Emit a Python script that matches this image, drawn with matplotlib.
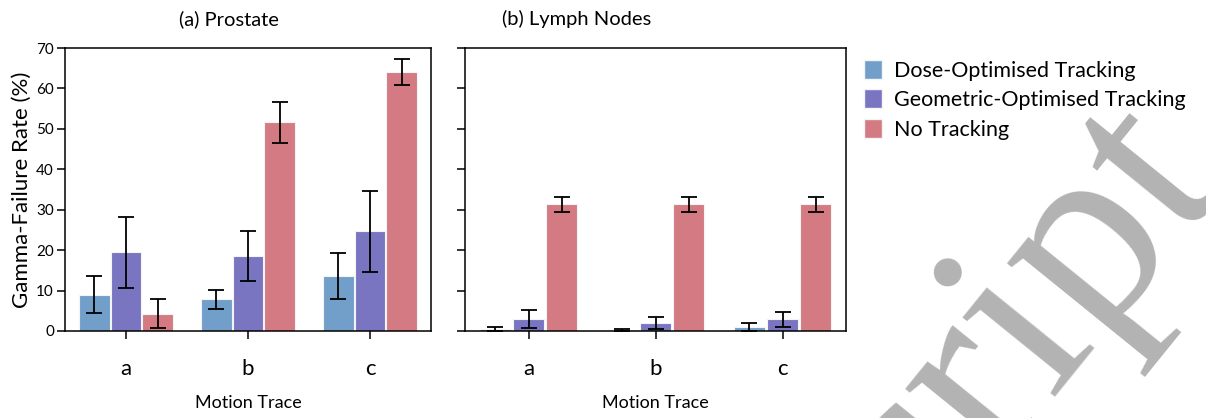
import numpy as np
import matplotlib
matplotlib.use("Agg")
import matplotlib.pyplot as plt
from matplotlib.patches import Patch

plt.rcParams["font.family"] = ["Lato", "DejaVu Sans"]

# data
traces = ["a", "b", "c"]
groups = ["Dose-Optimised Tracking", "Geometric-Optimised Tracking", "No Tracking"]
colors = ["#729fca", "#7a75c0", "#d37a83"]

prostate_mean = [
    [9.0, 7.8, 13.7],     # dose
    [19.5, 18.6, 24.7],   # geometric
    [4.3, 51.6, 64.0],    # none
]
prostate_err = [
    [4.5, 2.3, 5.7],
    [8.8, 6.2, 10.0],
    [3.5, 5.0, 3.2],
]
lymph_mean = [
    [0.5, 0.25, 1.0],
    [2.9, 2.0, 2.9],
    [31.4, 31.4, 31.4],
]
lymph_err = [
    [0.5, 0.25, 0.9],
    [2.2, 1.45, 1.9],
    [1.85, 1.85, 1.85],
]

W, H = 1206, 418
fig = plt.figure(figsize=(W / 100, H / 100), dpi=100)

def px_axes(x0, x1, y0, y1):
    return fig.add_axes([x0 / W, 1 - y1 / H, (x1 - x0) / W, (y1 - y0) / H])

ax1 = px_axes(65, 431, 48, 331)
ax2 = px_axes(465, 846, 48, 331)

x = np.arange(len(traces))
bw = 0.25
for ax, means, errs in [(ax1, prostate_mean, prostate_err), (ax2, lymph_mean, lymph_err)]:
    for i in range(3):
        ax.bar(x + (i - 1) * bw * 1.04, means[i], width=bw, color=colors[i],
               edgecolor="#f4f4f4", linewidth=0.8,
               yerr=errs[i], capsize=5.5,
               error_kw=dict(elinewidth=1.3, capthick=1.3, ecolor="black"))
    ax.set_xlim(-0.5, 2.5)
    ax.set_ylim(0, 70)
    ax.set_yticks(range(0, 71, 10))
    ax.set_xticks(x)
    ax.set_xticklabels(traces, fontsize=16)
    ax.tick_params(axis="x", direction="out", length=6, width=1.1, pad=14)
    ax.tick_params(axis="y", direction="out", length=6, width=1.1, labelsize=11, pad=2)
    for s in ax.spines.values():
        s.set_linewidth(1.1)
    ax.set_xlabel("Motion Trace", fontsize=13, labelpad=12)

ax2.set_yticklabels([])
ax1.set_ylabel("Gamma-Failure Rate (%)", fontsize=16, labelpad=3)

fig.text(229 / W, 1 - 19 / H, "(a) Prostate", fontsize=14.5, ha="center", va="center")
fig.text(577 / W, 1 - 19 / H, "(b) Lymph Nodes", fontsize=14.5, ha="center", va="center")

handles = [Patch(facecolor=c, edgecolor="#f4f4f4") for c in colors]
fig.legend(handles, groups, loc="upper left", bbox_to_anchor=(855 / W, 1 - 51 / H),
           frameon=False, fontsize=15.5, handlelength=0.85, handleheight=1.0,
           handletextpad=0.55, labelspacing=0.4, borderaxespad=0)

# watermark fragment (sits under the legend)
fig.text(1225 / W, 1 - 178 / H, "Manuscript", fontsize=190, family="Liberation Serif",
         color="#b3b3b3", rotation=51, rotation_mode="anchor",
         ha="right", va="baseline", zorder=3)

fig.savefig("out.png", dpi=100)
